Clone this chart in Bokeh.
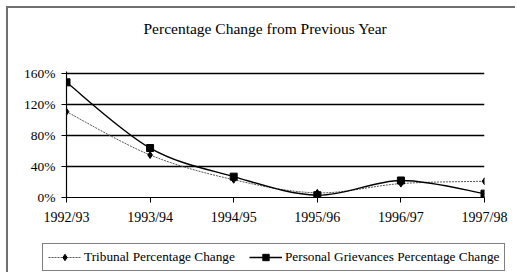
from bokeh.plotting import figure
from bokeh.layouts import column
from bokeh.models import (Range1d, FixedTicker, Legend, LegendItem, Title)
from bokeh.embed import file_html
from bokeh.resources import INLINE

years = ["1992/93", "1993/94", "1994/95", "1995/96", "1996/97", "1997/98"]
tribunal = [111, 55, 23, 6, 18, 21]
grievances = [149, 64, 27, 3, 22, 5]
y_ticks = [0, 40, 80, 120, 160]
y_labels = ["0%", "40%", "80%", "120%", "160%"]
title_text = "Percentage Change from Previous Year"
series_names = ["Tribunal Percentage Change", "Personal Grievances Percentage Change"]

FONT = "Times New Roman"
xs = list(range(len(years)))

p = figure(width=509, height=232, output_backend="svg", toolbar_location=None,
           x_range=Range1d(0, len(years) - 1), y_range=Range1d(0, 163),
           min_border_left=58, min_border_right=33, min_border_top=63,
           min_border_bottom=43)
p.frame_align = False
p.outline_line_color = None
p.background_fill_color = "white"
p.border_fill_color = "white"
p.title.visible = False

# spacer between chart and title, then the title itself
p.add_layout(Title(text=" ", text_font_size="2px", standoff=29), "above")
p.add_layout(Title(text=title_text, align="left", offset=77, standoff=4,
                   text_font=FONT, text_font_size="15.5px", text_font_style="normal",
                   text_color="black"), "above")

# axes
p.xaxis.ticker = FixedTicker(ticks=xs)
p.xaxis.major_label_overrides = {i: y for i, y in enumerate(years)}
p.yaxis.ticker = FixedTicker(ticks=y_ticks)
p.yaxis.major_label_overrides = {t: l for t, l in zip(y_ticks, y_labels)}
for ax in (p.xaxis[0], p.yaxis[0]):
    ax.axis_line_color = "black"
    ax.axis_line_width = 1.2
    ax.major_tick_line_color = "black"
    ax.major_tick_in = 0
    ax.major_tick_out = 5
    ax.minor_tick_line_color = None
    ax.major_label_text_font = FONT
    ax.major_label_text_color = "black"
p.xaxis.major_label_text_font_size = "14px"
p.yaxis.major_label_text_font_size = "13.5px"
p.yaxis.major_label_standoff = 6
p.xaxis.major_label_standoff = 7

p.xgrid.grid_line_color = None
p.ygrid.grid_line_color = "black"
p.ygrid.grid_line_width = 1.4
p.ygrid.ticker = FixedTicker(ticks=y_ticks[1:])


def smooth(xv, yv):
    n = len(xv)
    x0, y0, x1, y1, cx0, cy0, cx1, cy1 = ([] for _ in range(8))
    for i in range(n - 1):
        im = max(i - 1, 0)
        ip = min(i + 2, n - 1)
        x0.append(xv[i]); y0.append(yv[i])
        x1.append(xv[i + 1]); y1.append(yv[i + 1])
        cx0.append(xv[i] + (xv[i + 1] - xv[im]) / 6)
        cy0.append(yv[i] + (yv[i + 1] - yv[im]) / 6)
        cx1.append(xv[i + 1] - (xv[ip] - xv[i]) / 6)
        cy1.append(yv[i + 1] - (yv[ip] - yv[i]) / 6)
    return dict(x0=x0, y0=y0, x1=x1, y1=y1, cx0=cx0, cy0=cy0, cx1=cx1, cy1=cy1)


T_LINE = dict(line_color="#555555", line_width=1, line_dash="2 1")
G_LINE = dict(line_color="black", line_width=1.4)
T_MARK = dict(marker="diamond", size=7, fill_color="black", line_color="black")
G_MARK = dict(marker="square", size=7, fill_color="black", line_color="black")

p.bezier(source=smooth(xs, tribunal), x0="x0", y0="y0", x1="x1", y1="y1",
         cx0="cx0", cy0="cy0", cx1="cx1", cy1="cy1", **T_LINE)
p.bezier(source=smooth(xs, grievances), x0="x0", y0="y0", x1="x1", y1="y1",
         cx0="cx0", cy0="cy0", cx1="cx1", cy1="cy1", **G_LINE)
p.scatter(xs, tribunal, **T_MARK)
p.scatter(xs, grievances, **G_MARK)

# legend strip below the chart (its own renderers lie outside its view)
q = figure(width=509, height=34, output_backend="svg", toolbar_location=None,
           x_range=Range1d(100, 101), y_range=Range1d(1000, 1001),
           x_axis_location=None, y_axis_location=None,
           min_border_left=0, min_border_right=0, min_border_top=0,
           min_border_bottom=0)
q.frame_align = False
q.grid.visible = False
q.outline_line_color = None
q.border_fill_color = "white"
q.background_fill_color = "white"
lt = q.line(xs, tribunal, **T_LINE)
mt = q.scatter(xs, tribunal, **T_MARK)
lg = q.line(xs, grievances, **G_LINE)
mg = q.scatter(xs, grievances, **G_MARK)

legend = Legend(items=[LegendItem(label=series_names[0], renderers=[lt, mt]),
                       LegendItem(label=series_names[1], renderers=[lg, mg])],
                orientation="horizontal", location=(34, 3),
                glyph_width=33, glyph_height=16, label_standoff=3, spacing=14,
                padding=5, margin=0, label_height=16,
                label_text_font=FONT, label_text_font_size="13.3px",
                label_text_color="black", label_text_baseline="middle",
                border_line_color="black", border_line_width=1.2,
                background_fill_color="white", background_fill_alpha=1)
q.add_layout(legend, "center")

layout = column(p, q, spacing=0)
layout.styles = {"margin": "8px 0px 0px 8px",
                 "box-shadow": "-2px -2px 0px 0px #707070"}

open("out.html", "w").write(file_html(layout, INLINE))
